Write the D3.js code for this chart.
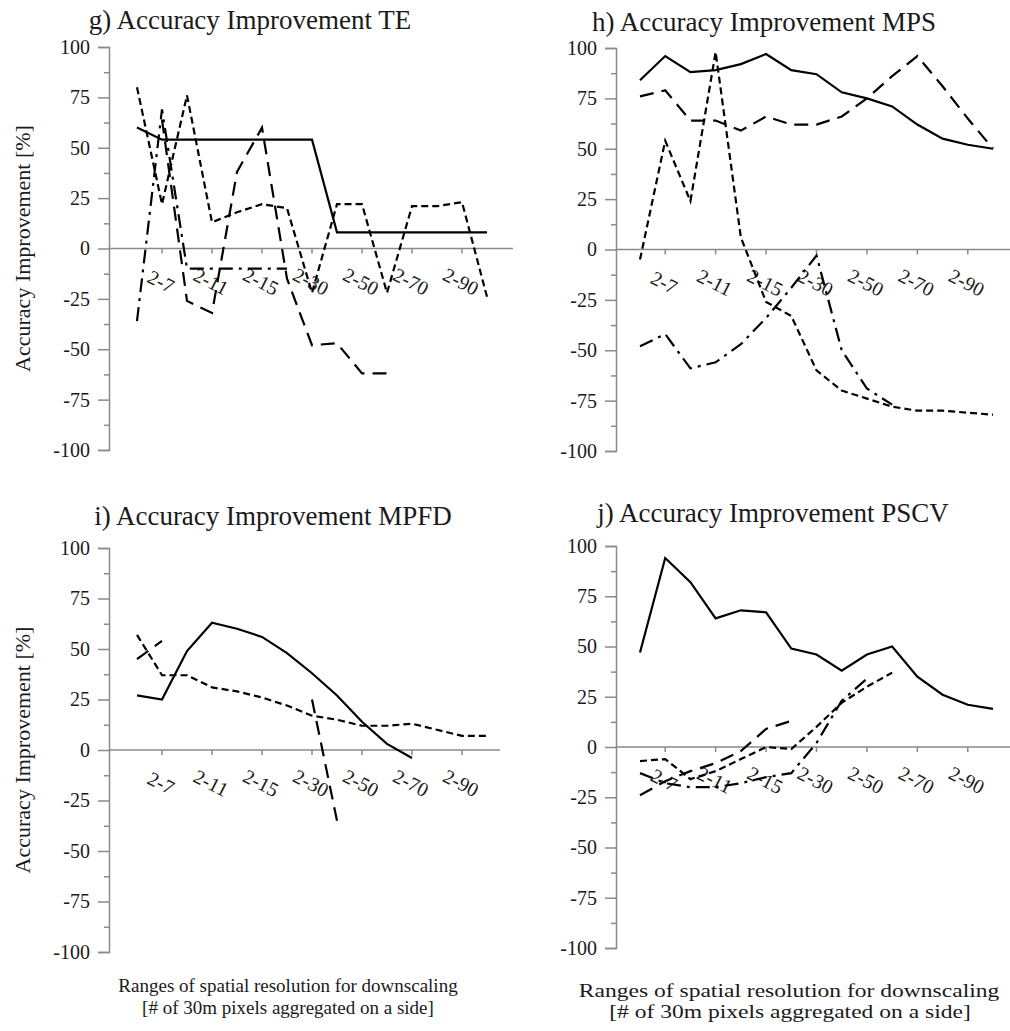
<!DOCTYPE html>
<html><head><meta charset="utf-8">
<script src="https://cdn.jsdelivr.net/npm/d3@7"></script>
<style>body{margin:0;background:#fff}svg{display:block}text{font-family:"Liberation Serif","Times New Roman",serif}</style>
</head><body>
<script>
// ---------- data ----------
const categories = ["2-5","2-7","2-9","2-11","2-13","2-15","2-20","2-30","2-40","2-50","2-60","2-70","2-80","2-90","2-100"];
const tickLabels = ["2-7","2-11","2-15","2-30","2-50","2-70","2-90"];
const yTicks = [100,75,50,25,0,-25,-50,-75,-100];
const yMinorTicks = [87.5,62.5,37.5,12.5,-12.5,-37.5,-62.5,-87.5];
const titles = ["g) Accuracy Improvement TE","h) Accuracy Improvement MPS","i) Accuracy Improvement MPFD","j) Accuracy Improvement PSCV"];
const yTitle = "Accuracy Improvement [%]";
const xTitle1 = "Ranges of spatial resolution for downscaling";
const xTitle2 = "[# of 30m pixels aggregated on a side]";

// TE
const teSolid    = [60,54,54,54,54,54,54,54,8,8,8,8,8,8,8];
const teShort    = [80,22,76,13,18,22,20,-22,22,22,-22,21,21,23,-24];
const teLong     = [null,64,-26,-32,38,60,-15,-48,-47,-62,-62];
const teDashDot  = [-36,69,-10,-10,-10,-10,-10];
// MPS
const mpsSolid   = [84,96,88,89,92,97,89,87,78,75,71,62,55,52,50];
const mpsShort   = [-5,54,24,98,6,-26,-33,-60,-70,-74,-78,-80,-80,-81,-82];
const mpsLong    = [76,79,64,64,59,66,62,62,66,75,86,96,81,65,50];
const mpsDashDot = [-48,-42,-59,-56,-47,-34,-19,-3,-50,-69,-77];
// MPFD
const mpfdSolid  = [27,25,49,63,60,56,48,38,27,14,3,-4];
const mpfdShort  = [57,37,37,31,29,26,22,17,15,12,12,13,10,7,7];
const mpfdLong   = [45,54,null,null,null,null,null,25,-35];
const mpfdDashDot= [];
// PSCV
const pscvSolid  = [47,94,82,64,68,67,49,46,38,46,50,35,26,21,19];
const pscvShort  = [-7,-6,-16,-12,-6,0,-1,10,22,30,37];
const pscvLong   = [-24,-17,-12,-8,-2,9,13];
const pscvDashDot= [-13,-18,-20,-20,-18,-15,-13,2,23,34];

// ---------- layout / style ----------
const W = 1010, H = 1031;
const dashStyles = {solid:null, short:"7,4", long:"14,8", dashdot:"14,6,3,6"};
const panels = [
  {title:titles[0], ax:109, yTop:47,  yBot:450, x0:137, x1:487, xEnd:513, tx:250, ty:29, showY:true,
   series:[[teSolid,"solid"],[teShort,"short"],[teLong,"long"],[teDashDot,"dashdot"]]},
  {title:titles[1], ax:616, yTop:48,  yBot:451, x0:640, x1:993, xEnd:1010, tx:764, ty:31, showY:false,
   series:[[mpsSolid,"solid"],[mpsShort,"short"],[mpsLong,"long"],[mpsDashDot,"dashdot"]]},
  {title:titles[2], ax:109, yTop:548, yBot:952, x0:137, x1:487, xEnd:500, tx:273, ty:525, showY:true,
   series:[[mpfdSolid,"solid"],[mpfdShort,"short"],[mpfdLong,"long"],[mpfdDashDot,"dashdot"]]},
  {title:titles[3], ax:616, yTop:546, yBot:948, x0:640, x1:993, xEnd:1010, tx:773, ty:522, showY:false,
   series:[[pscvSolid,"solid"],[pscvShort,"short"],[pscvLong,"long"],[pscvDashDot,"dashdot"]]}
];
const axisColor = "#8a8a8a";

const svg = d3.select("body").append("svg").attr("width",W).attr("height",H);

panels.forEach(p => {
  const g = svg.append("g");
  const y = d3.scaleLinear().domain([-100,100]).range([p.yBot,p.yTop]);
  const x = d3.scalePoint().domain(categories).range([p.x0,p.x1]);

  // title
  g.append("text").attr("x",p.tx).attr("y",p.ty).attr("text-anchor","middle")
    .attr("font-size",27).attr("fill","#1a1a1a").text(p.title);

  // y axis
  const yAxis = d3.axisLeft(y).tickValues(yTicks).tickSize(11).tickPadding(8).tickFormat(d=>String(d));
  const ya = g.append("g").attr("transform",`translate(${p.ax},0)`).call(yAxis);
  ya.select(".domain").attr("stroke",axisColor).attr("stroke-width",1.5);
  ya.selectAll(".tick line").attr("stroke",axisColor).attr("stroke-width",1.5);
  ya.selectAll(".tick text").attr("font-size",20).attr("fill","#1a1a1a")
    .attr("font-family","Liberation Serif, Times New Roman, serif");
  const yMinor = d3.axisLeft(y).tickValues(yMinorTicks).tickSize(5).tickFormat("");
  const ym = g.append("g").attr("transform",`translate(${p.ax},0)`).call(yMinor);
  ym.select(".domain").remove();
  ym.selectAll(".tick line").attr("stroke",axisColor).attr("stroke-width",1.5);

  // x axis on zero line
  const y0 = y(0);
  g.append("line").attr("x1",p.ax).attr("x2",p.xEnd).attr("y1",y0).attr("y2",y0)
    .attr("stroke",axisColor).attr("stroke-width",1.5);
  g.selectAll(".xt").data(tickLabels).enter().append("line")
    .attr("x1",d=>x(d)).attr("x2",d=>x(d)).attr("y1",y0).attr("y2",y0+5)
    .attr("stroke",axisColor).attr("stroke-width",1.5);
  g.selectAll(".xl").data(tickLabels).enter().append("text")
    .attr("transform",d=>`translate(${x(d)-2},${y0+35}) rotate(27)`)
    .attr("text-anchor","middle").attr("dominant-baseline","middle")
    .attr("font-size",20).attr("fill","#1a1a1a").text(d=>d);

  // y title
  if (p.showY) {
    g.append("text").attr("transform",`translate(25,${y0}) rotate(-90)`)
      .attr("text-anchor","middle").attr("dominant-baseline","middle")
      .attr("font-size",22).attr("fill","#1a1a1a").text(yTitle);
  }

  // series
  const line = d3.line().defined(d=>d.v!=null).x(d=>x(d.c)).y(d=>y(d.v));
  p.series.forEach(([vals,style]) => {
    if (!vals.length) return;
    const pts = vals.map((v,i)=>({c:categories[i],v:v}));
    g.append("path").datum(pts).attr("d",line).attr("fill","none")
      .attr("stroke","#000").attr("stroke-width",2.2)
      .attr("stroke-dasharray",dashStyles[style]);
  });
});

// bottom captions
svg.append("text").attr("x",288).attr("y",992).attr("text-anchor","middle").attr("font-size",19).attr("fill","#1a1a1a").text(xTitle1);
svg.append("text").attr("x",288).attr("y",1014).attr("text-anchor","middle").attr("font-size",19).attr("fill","#1a1a1a").text(xTitle2);
svg.append("text").attr("transform","translate(789,997) scale(1.24,1)").attr("text-anchor","middle").attr("font-size",19).attr("fill","#1a1a1a").text(xTitle1);
svg.append("text").attr("transform","translate(790,1018) scale(1.24,1)").attr("text-anchor","middle").attr("font-size",19).attr("fill","#1a1a1a").text(xTitle2);
</script>
</body></html>
